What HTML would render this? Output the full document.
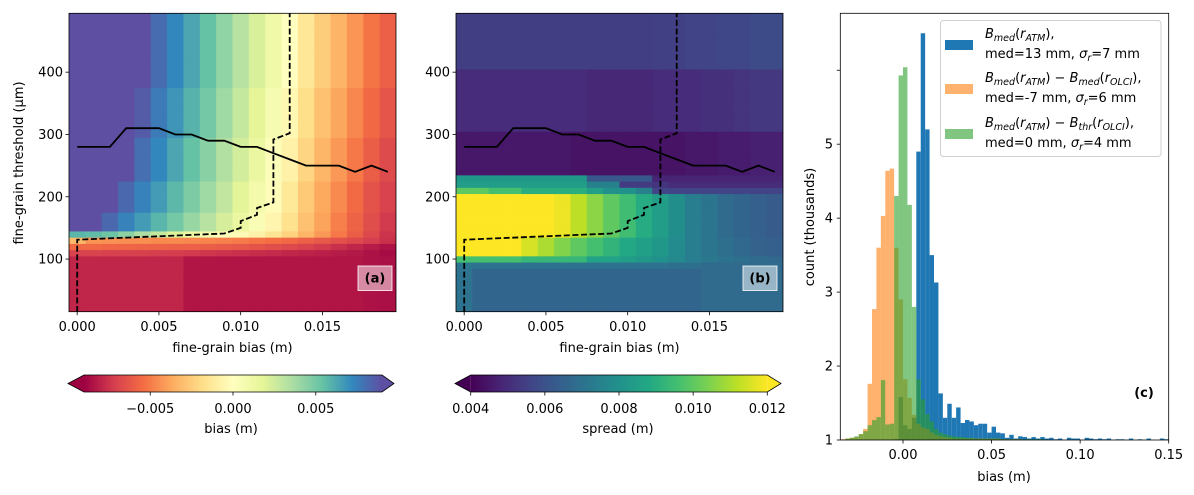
<!DOCTYPE html>
<html><head><meta charset="utf-8"><style>
html,body{margin:0;padding:0;background:#fff;}
svg{display:block;font-family:"DejaVu Sans","Liberation Sans",sans-serif;}
</style></head><body>
<svg id="fig" width="1194" height="495" viewBox="0 0 1194 495" xmlns="http://www.w3.org/2000/svg">
<rect width="1194" height="495" fill="#fff"/>
<defs>
<linearGradient id="gSpec" x1="0" x2="1" y1="0" y2="0"></linearGradient>
<linearGradient id="gVir" x1="0" x2="1" y1="0" y2="0"></linearGradient>
<clipPath id="clipA"><rect x="69" y="13" width="327" height="299"/></clipPath>
<clipPath id="clipB"><rect x="456" y="13" width="327" height="299"/></clipPath>
<clipPath id="clipC"><rect x="840" y="13" width="328.5" height="427"/></clipPath>
</defs>
<g id="panelA"></g>
<g id="panelB"></g>
<g id="panelC"></g>
<g id="cbars"></g>
<g id="legend">
  <rect x="940.5" y="20.5" width="220.5" height="136" rx="3" fill="#fff" fill-opacity="0.8" stroke="#d0d0d0"/>
  <rect x="945" y="40" width="28" height="10" fill="#1f77b4"/>
  <text x="985" y="38" font-size="13"><tspan font-style="italic">B</tspan><tspan font-style="italic" font-size="9.5" dy="3">med</tspan><tspan dy="-3">(</tspan><tspan font-style="italic">r</tspan><tspan font-style="italic" font-size="9.5" dy="3">ATM</tspan><tspan dy="-3">),</tspan></text>
  <text x="985" y="58" font-size="13">med=13 mm,  <tspan font-style="italic">σ</tspan><tspan font-style="italic" font-size="9.5" dy="3">r</tspan><tspan dy="-3">=7 mm</tspan></text>
  <rect x="945" y="84" width="28" height="10" fill="#ff7f0e" fill-opacity="0.6"/>
  <text x="985" y="82" font-size="13"><tspan font-style="italic">B</tspan><tspan font-style="italic" font-size="9.5" dy="3">med</tspan><tspan dy="-3">(</tspan><tspan font-style="italic">r</tspan><tspan font-style="italic" font-size="9.5" dy="3">ATM</tspan><tspan dy="-3">) − </tspan><tspan font-style="italic">B</tspan><tspan font-style="italic" font-size="9.5" dy="3">med</tspan><tspan dy="-3">(</tspan><tspan font-style="italic">r</tspan><tspan font-style="italic" font-size="9.5" dy="3">OLCI</tspan><tspan dy="-3">),</tspan></text>
  <text x="985" y="102" font-size="13">med=-7 mm, <tspan font-style="italic">σ</tspan><tspan font-style="italic" font-size="9.5" dy="3">r</tspan><tspan dy="-3">=6 mm</tspan></text>
  <rect x="945" y="129" width="28" height="10" fill="#2ca02c" fill-opacity="0.6"/>
  <text x="985" y="127" font-size="13"><tspan font-style="italic">B</tspan><tspan font-style="italic" font-size="9.5" dy="3">med</tspan><tspan dy="-3">(</tspan><tspan font-style="italic">r</tspan><tspan font-style="italic" font-size="9.5" dy="3">ATM</tspan><tspan dy="-3">) − </tspan><tspan font-style="italic">B</tspan><tspan font-style="italic" font-size="9.5" dy="3">thr</tspan><tspan dy="-3">(</tspan><tspan font-style="italic">r</tspan><tspan font-style="italic" font-size="9.5" dy="3">OLCI</tspan><tspan dy="-3">),</tspan></text>
  <text x="985" y="147" font-size="13">med=0 mm, <tspan font-style="italic">σ</tspan><tspan font-style="italic" font-size="9.5" dy="3">r</tspan><tspan dy="-3">=4 mm</tspan></text>
</g>
</svg>
<script>
// ---------- data ----------
const biasCols = [0,0.001,0.002,0.003,0.004,0.005,0.006,0.007,0.008,0.009,0.010,0.011,0.012,0.013,0.014,0.015,0.016,0.017,0.018,0.019];
// rows: [first row centre µm, last row centre µm, bias values in mm per column]
const biasRows = [
 [20,100,[-7.9,-7.9,-7.9,-7.9,-7.9,-7.9,-7.9,-8.4,-8.4,-8.4,-8.4,-8.4,-8.4,-8.4,-8.4,-8.4,-8.4,-8.4,-8.5,-8.6]],
 [110,110,[-7.0,-7.0,-7.1,-7.1,-7.1,-7.2,-7.2,-7.3,-7.4,-7.5,-7.6,-7.7,-7.8,-7.9,-8.0,-8.1,-8.2,-8.3,-8.5,-8.7]],
 [120,120,[-5.6,-5.6,-5.7,-5.7,-5.8,-5.8,-5.9,-5.9,-6.0,-6.1,-6.2,-6.4,-6.6,-6.8,-7.0,-7.3,-7.6,-7.9,-8.2,-8.5]],
 [130,130,[-3.2,-4.3,-4.4,-4.5,-4.5,-4.6,-4.6,-4.7,-4.8,-4.9,-5.0,-5.2,-5.4,-5.6,-5.9,-6.2,-6.5,-6.8,-7.2,-7.6]],
 [140,140,[5.8,5.6,5.2,4.4,3.5,2.8,2.0,1.3,0.7,0.2,-0.3,-0.8,-1.5,-2.3,-3.3,-4.2,-5.1,-6.0,-6.8,-7.5]],
 [150,170,[10,9,8.2,7.4,6.6,5.8,5.0,4.1,3.2,2.3,1.4,0.5,-0.6,-1.7,-2.9,-3.9,-4.9,-5.8,-6.6,-7.3]],
 [180,220,[10,10,9.2,8.2,7.4,6.6,5.7,4.8,3.9,2.9,1.9,0.9,-0.2,-1.3,-2.6,-3.7,-4.6,-5.5,-6.4,-7.0]],
 [230,290,[10,10,10,9.0,8.0,7.2,6.3,5.4,4.5,3.4,2.4,1.4,0.3,-0.8,-2.2,-3.3,-4.2,-5.1,-6.0,-6.7]],
 [300,370,[10,10,10,10,8.6,7.6,6.8,5.9,5.0,3.9,2.8,1.8,0.7,-0.4,-1.8,-2.9,-3.8,-4.7,-5.6,-6.3]],
 [380,490,[10,10,10,10,10,8.1,7.2,6.3,5.4,4.3,3.2,2.2,1.1,0,-1.4,-2.5,-3.4,-4.3,-5.2,-5.9]]
];
// spread in mm
const spreadRows = [
 [20,80,[7.0,6.6,6.6,6.6,6.6,6.6,6.6,6.6,6.6,6.6,6.6,6.6,6.6,6.6,6.6,6.8,6.8,6.8,6.8,6.8]],
 [90,90,[7.1,7.0,7.0,7.0,7.0,7.0,7.0,7.0,7.0,7.0,7.0,7.0,7.0,6.9,6.9,6.8,6.8,6.8,6.8,6.8]],
 [100,100,[9.6,9.6,9.6,9.6,9.3,9.3,9.3,9.3,8.6,8.6,8.4,8.2,8.0,7.7,7.4,7.2,7.0,6.9,6.8,6.7]],
 [110,130,[12,12,12,12,11.5,11,10.5,10,9.6,9.2,8.8,8.5,8.2,7.8,7.4,7.1,6.9,6.7,6.5,6.4]],
 [140,200,[12.5,12.5,12.5,12.5,12.5,12.5,11.8,11.2,10.6,10.0,9.5,8.9,8.4,7.9,7.4,7.1,6.8,6.6,6.4,6.3]],
 [210,210,[10,10,9.6,9.6,9.0,9.0,9.0,9.0,8.5,8.0,8.0,7.5,5.6,5.6,5.6,5.6,5.6,5.6,5.6,5.6]],
 [220,220,[8.4,8.4,8.4,8.4,8.4,8.4,8.4,8.4,7.5,7.5,5.4,5.4,5.2,5.0,5.0,5.0,5.0,5.0,5.0,5.0]],
 [230,230,[8.2,8.2,8.2,8.2,8.2,8.2,8.2,8.2,6.2,6.2,6.2,6.2,4.8,4.8,4.8,4.8,4.8,4.8,4.8,4.8]],
 [240,300,[4.5,4.5,4.5,4.5,4.5,4.5,4.5,4.4,4.4,4.4,4.4,4.4,4.4,4.4,4.5,4.5,4.6,4.6,4.7,4.7]],
 [310,400,[5.0,5.0,5.0,5.0,5.0,5.0,5.0,5.0,4.9,4.9,4.9,4.9,5.0,5.0,5.0,5.1,5.1,5.2,5.3,5.3]],
 [410,490,[5.45,5.45,5.45,5.45,5.45,5.45,5.45,5.45,5.45,5.45,5.45,5.45,5.5,5.5,5.6,5.6,5.7,5.7,5.8,5.8]]
];
// threshold lines (shared by panels a and b)
const medLineX = [0,0.001,0.002,0.003,0.004,0.005,0.006,0.007,0.008,0.009,0.010,0.011,0.012,0.013,0.014,0.015,0.016,0.017,0.018,0.019];
const medLineY = [280,280,280,310,310,310,300,300,290,290,280,280,270,260,250,250,250,240,250,240];
const dashLineX = [0,0,0.009,0.010,0.010,0.011,0.011,0.012,0.012,0.013,0.013];
const dashLineY = [15,131,141,150,161,171,182,191,292,302,495];
const heatXTicks = [0,0.005,0.010,0.015];
const heatXTickLabels = ['0.000','0.005','0.010','0.015'];
const heatYTicks = [100,200,300,400];
const heatYTickLabels = ['100','200','300','400'];
const biasCbTicks = [-0.005,0,0.005];
const biasCbLabels = ['\u22120.005','0.000','0.005'];
const spreadCbTicks = [0.004,0.006,0.008,0.010,0.012];
const spreadCbLabels = ['0.004','0.006','0.008','0.010','0.012'];
// histogram: bins of 0.0025 m starting at -0.035 ; counts in thousands
const histStart = -0.035, histBin = 0.0025;
const histBlue = [1.0,1.0,1.0,1.0,1.0,1.0,1.0,1.0,1.0,1.0,1.0,1.0,1.01,1.58,1.2,1.15,1.3,4.9,6.5,5.2,3.5,3.13,1.63,1.3,1.49,1.3,1.44,1.23,1.27,1.25,1.2,1.22,1.22,1.1,1.18,1.1,1.09,1.03,1.07,1.02,1.05,1.04,1.02,1.04,1.02,1.04,1.02,1.03,1.01,1.02,1.0,1.03,1.02,1.02,1.0,1.03,1.02,1.01,1.02,1.01,1.02,1.0,1.01,1.01,1.0,1.02,1.0,1.01,1.0,1.02,1.0,1.0,1.02,1.01];
const histOrange = [1.01,1.02,1.03,1.04,1.08,1.15,1.76,2.77,3.6,4.03,4.64,4.67,3.6,2.9,1.82,1.57,1.34,1.22,1.17,1.15,1.1,1.07,1.05,1.04,1.03,1.02,1.02,1.02,1.02,1.02,1.02,1.02,1.02,1.02,1.02,1.02,1.01,1.01,1.01,1.01,1.01,1.0,1.0,1.0,1.0,1.0,1.0,1.0,1.0,1.0,1.0,1.0,1.0,1.0,1.0,1.0,1.0,1.0,1.0,1.0,1.0,1.0,1.0,1.0,1.0,1.0,1.0,1.0,1.0,1.0,1.0,1.0,1.0,1.0];
const histGreen = [1.0,1.02,1.03,1.05,1.08,1.12,1.2,1.27,1.31,1.81,1.21,1.22,4.3,5.93,6.04,4.18,2.8,1.82,1.55,1.35,1.25,1.15,1.1,1.08,1.06,1.05,1.04,1.04,1.03,1.03,1.02,1.02,1.02,1.02,1.02,1.02,1.01,1.01,1.01,1.01,1.01,1.01,1.01,1.01,1.01,1.01,1.0,1.0,1.0,1.0,1.0,1.0,1.0,1.0,1.0,1.0,1.0,1.0,1.0,1.0,1.0,1.0,1.0,1.0,1.0,1.0,1.0,1.0,1.0,1.0,1.0,1.0,1.0,1.0];
const histXTicks = [0,0.05,0.10,0.15];
const histXTickLabels = ['0.00','0.05','0.10','0.15'];
const histYTicks = [1,2,3,4,5,6];
const histYTickLabels = ['1','2','3','4','5',''];

// ---------- helpers ----------
const NS='http://www.w3.org/2000/svg';
function mk(parent, tag, attrs, txt){const e=document.createElementNS(NS,tag);for(const k in attrs)e.setAttribute(k,attrs[k]);if(txt!==undefined)e.textContent=txt;parent.appendChild(e);return e;}
const SPEC=['#9e0142','#d53e4f','#f46d43','#fdae61','#fee08b','#ffffbf','#e6f598','#abdda4','#66c2a5','#3288bd','#5e4fa2'];
const VIR=['#440154','#482475','#414487','#355f8d','#2a788e','#21918c','#22a884','#44bf70','#7ad151','#bddf26','#fde725'];
function hex(h){return [parseInt(h.substr(1,2),16),parseInt(h.substr(3,2),16),parseInt(h.substr(5,2),16)];}
function cmap(stops,t){t=Math.max(0,Math.min(1,t));const n=stops.length-1;const i=Math.min(n-1,Math.floor(t*n));const f=t*n-i;const a=hex(stops[i]),b=hex(stops[i+1]);return 'rgb('+a.map((v,k)=>Math.round(v+(b[k]-v)*f)).join(',')+')';}
function lin(d0,d1,r0,r1){return v=>r0+(v-d0)/(d1-d0)*(r1-r0);}
['gSpec','gVir'].forEach((id,j)=>{const g=document.getElementById(id);const st=j?VIR:SPEC;st.forEach((c,i)=>mk(g,'stop',{offset:(i/(st.length-1)),'stop-color':c}));});

function heatPanel(g, left, rows, cmapStops, vmin, vmax, clip, tag, label, labelBoxX){
  const x=lin(-0.0005,0.0195,left,left+327), y=lin(15,495,312,13);
  const cells=mk(g,'g',{'clip-path':'url(#'+clip+')'});
  
  
  rows.forEach(r=>{
    for(let v=r[0]; v<=r[1]; v+=10){
      r[2].forEach((val,c)=>{
        const x0=x(biasCols[c]-0.0005), x1=x(biasCols[c]+0.0005), y0=y(v+5), y1=y(v-5);
        const rc=mk(cells,'rect',{x:x0.toFixed(2),y:y0.toFixed(2),width:(x1-x0+0.4).toFixed(2),height:(y1-y0+0.4).toFixed(2),fill:cmap(cmapStops,(val/1000-vmin)/(vmax-vmin))});
        
        
      });
    }
  });
  const ml=mk(g,'polyline',{points:medLineX.map((v,i)=>x(v).toFixed(1)+','+y(medLineY[i]).toFixed(1)).join(' '),fill:'none',stroke:'#000','stroke-width':1.8,'clip-path':'url(#'+clip+')'});
  
  
  const dl=mk(g,'polyline',{points:dashLineX.map((v,i)=>x(v).toFixed(1)+','+y(dashLineY[i]).toFixed(1)).join(' '),fill:'none',stroke:'#000','stroke-width':1.8,'stroke-dasharray':'6,2.6','clip-path':'url(#'+clip+')'});
  
  
  const fr=mk(g,'rect',{x:left,y:13.3,width:327,height:298.4,fill:'none',stroke:'#000','stroke-width':0.8});
  
  
  heatXTicks.forEach((v,i)=>{
    mk(g,'line',{x1:x(v),x2:x(v),y1:311.7,y2:315.2,stroke:'#000','stroke-width':0.8});
    const t=mk(g,'text',{x:x(v),y:331,'font-size':13,'text-anchor':'middle'},heatXTickLabels[i]);
    
    
  });
  heatYTicks.forEach((v,i)=>{
    mk(g,'line',{x1:left-3.5,x2:left,y1:y(v),y2:y(v),stroke:'#000','stroke-width':0.8});
    const t=mk(g,'text',{x:left-6,y:y(v)+4.5,'font-size':13,'text-anchor':'end'},heatYTickLabels[i]);
    
    
  });
  const xl=mk(g,'text',{x:left+163.5,y:352,'font-size':13,'text-anchor':'middle'},'fine-grain bias (m)');
  
  
  const bx=mk(g,'rect',{x:labelBoxX,y:266,width:34,height:24.5,fill:'#fff','fill-opacity':0.5,stroke:'#fff','stroke-opacity':0.8,'stroke-width':1});
  
  
  const lb=mk(g,'text',{x:labelBoxX+17,y:282.5,'font-size':13,'font-weight':'bold','text-anchor':'middle'},label);
  
  
}
const gA=document.getElementById('panelA'), gB=document.getElementById('panelB');
heatPanel(gA,69,biasRows,SPEC,-0.009,0.009,'clipA','bias-heatmap','(a)',358);
heatPanel(gB,456,spreadRows,VIR,0.004,0.012,'clipB','spread-heatmap','(b)',743);
const yl=mk(gA,'text',{x:0,y:0,'font-size':13,'text-anchor':'middle',transform:'translate(23,163) rotate(-90)'},'fine-grain threshold (µm)');



// colorbars
function cbar(g, x0, x1, x2, x3, grad, lo, hi, vmin, vmax, ticks, labels, title, tag){
  const y0=375,y1=392,ym=383.5;
  mk(g,'polygon',{points:x0+','+ym+' '+x1+','+y0+' '+x1+','+y1,fill:lo});
  mk(g,'polygon',{points:x2+','+y0+' '+x3+','+ym+' '+x2+','+y1,fill:hi});
  const bar=mk(g,'rect',{x:x1,y:y0,width:x2-x1,height:y1-y0,fill:'url(#'+grad+')'});
  
  
  mk(g,'polygon',{points:x0+','+ym+' '+x1+','+y0+' '+x2+','+y0+' '+x3+','+ym+' '+x2+','+y1+' '+x1+','+y1,fill:'none',stroke:'#000','stroke-width':0.8});
  const sx=lin(vmin,vmax,x1,x2);
  ticks.forEach((v,i)=>{
    mk(g,'line',{x1:sx(v),x2:sx(v),y1:y1,y2:y1+3.5,stroke:'#000','stroke-width':0.8});
    const t=mk(g,'text',{x:sx(v),y:413,'font-size':13,'text-anchor':'middle'},labels[i]);
    
    
  });
  const tt=mk(g,'text',{x:(x0+x3)/2,y:433,'font-size':13,'text-anchor':'middle'},title);
  
  
}
const gCB=document.getElementById('cbars');
cbar(gCB,68,84,382,394,'gSpec',SPEC[0],SPEC[10],-0.009,0.009,biasCbTicks,biasCbLabels,'bias (m)','bias');
cbar(gCB,455,470.7,767.3,781,'gVir',VIR[0],VIR[10],0.004,0.012,spreadCbTicks,spreadCbLabels,'spread (m)','spread');

// histogram
const gC=document.getElementById('panelC');
const hx=lin(-0.0354,0.15,840.3,1168.7), hy=lin(1,6.77,440,13.3);
const bars=mk(gC,'g',{'clip-path':'url(#clipC)'});


[[histBlue,'#1f77b4',1,'bmed'],[histOrange,'#ff7f0e',0.6,'diff-med'],[histGreen,'#2ca02c',0.6,'diff-thr']].forEach(s=>{
  const sg=mk(bars,'g',{fill:s[1],'fill-opacity':s[2]});
  
  
  s[0].forEach((v,i)=>{
    if(v<=1)return;
    const a=hx(histStart+i*histBin), b=hx(histStart+(i+1)*histBin);
    const r=mk(sg,'rect',{x:a.toFixed(2),y:hy(v).toFixed(2),width:(b-a).toFixed(2),height:(440-hy(v)).toFixed(2)});
    
    
  });
});
const fc=mk(gC,'rect',{x:840.3,y:13.3,width:328.4,height:426.7,fill:'none',stroke:'#000','stroke-width':0.8});


histXTicks.forEach((v,i)=>{
  mk(gC,'line',{x1:hx(v),x2:hx(v),y1:440,y2:443.5,stroke:'#000','stroke-width':0.8});
  const t=mk(gC,'text',{x:hx(v),y:459,'font-size':13,'text-anchor':'middle'},histXTickLabels[i]);
  
  
});
histYTicks.forEach((v,i)=>{
  mk(gC,'line',{x1:836.8,x2:840.3,y1:hy(v),y2:hy(v),stroke:'#000','stroke-width':0.8});
  const t=mk(gC,'text',{x:833,y:hy(v)+4.5,'font-size':13,'text-anchor':'end'},histYTickLabels[i]);
  
  
});
const hxl=mk(gC,'text',{x:1004,y:481,'font-size':13,'text-anchor':'middle'},'bias (m)');


const hyl=mk(gC,'text',{x:0,y:0,'font-size':13,'text-anchor':'middle',transform:'translate(814,227) rotate(-90)'},'count (thousands)');


const cl=mk(gC,'text',{x:1144,y:397,'font-size':13,'font-weight':'bold','text-anchor':'middle'},'(c)');


document.getElementById('fig').appendChild(document.getElementById('legend'));
</script>
</body></html>
